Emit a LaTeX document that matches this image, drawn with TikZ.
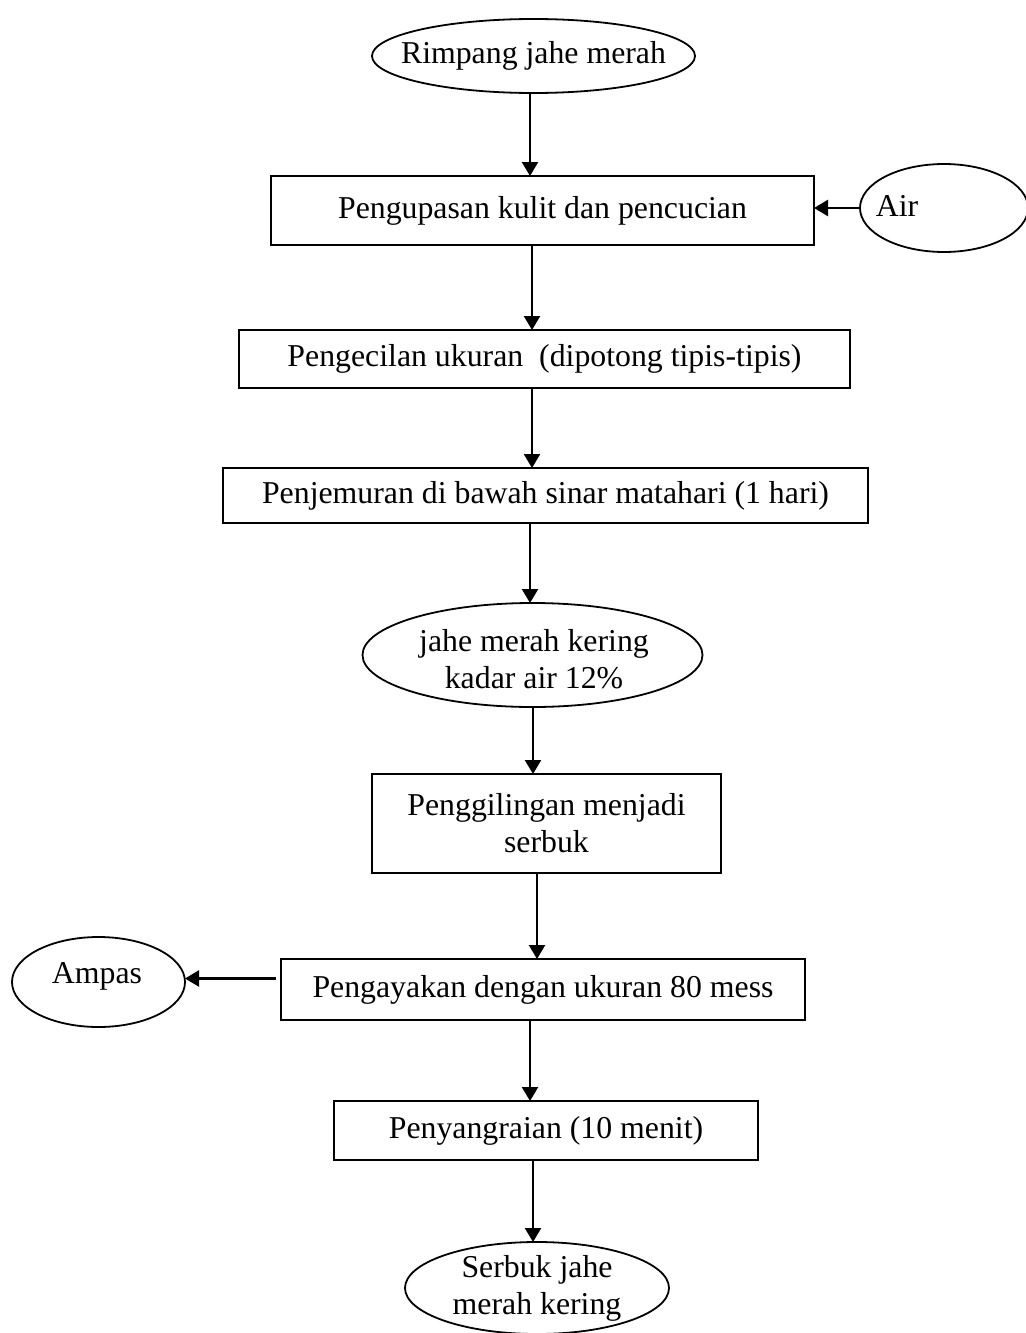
\documentclass[tikz,border=0pt]{standalone}
\usepackage{fontspec}
\setmainfont{Liberation Serif}
\usetikzlibrary{shapes.geometric,arrows.meta}
\begin{document}
\begin{tikzpicture}[x=0.5pt,y=-0.5pt,
  every node/.style={font=\fontsize{15.9pt}{18.5pt}\selectfont, inner sep=0pt, outer sep=0pt},
  box/.style={draw, line width=1.1pt, rectangle, align=center},
  oval/.style={draw, line width=0.9pt, ellipse},
  lbl/.style={align=center},
  arr/.style={line width=1.2pt, -{Triangle[length=7pt,width=8pt]}}]
\useasboundingbox (0,0) rectangle (1026,1333);
\coordinate (xa) at (530,0);
\coordinate (xb) at (532,0);
\coordinate (xc) at (533,0);
\coordinate (xd) at (537,0);
% nodes
\node[oval, minimum width=161.5pt, minimum height=37pt] (start) at (533.5,56) {};
\node[lbl] (startt) at (start) {Rimpang jahe merah};
\node[box, minimum width=271.5pt, minimum height=34.5pt] (r1) at (542.5,210.5) {Pengupasan kulit dan pencucian};
\node[oval, minimum width=84pt, minimum height=44pt] (air) at (944,208) {};
\node[lbl] (airt) at (897,206) {Air};
\node[box, minimum width=305.5pt, minimum height=29pt] (r2) at (544.5,359) {Pengecilan ukuran\ \ (dipotong tipis-tipis)};
\node[box, minimum width=322.5pt, minimum height=27.5pt] (r3) at (545.5,495.5) {Penjemuran di bawah sinar matahari (1 hari)};
\node[oval, minimum width=170pt, minimum height=52pt] (dry) at (532.5,655) {};
\node[lbl] (dryt) at (534,659) {jahe merah kering\\kadar air 12\%};
\node[box, minimum width=174.5pt, minimum height=49.5pt] (grind) at (546.5,823.5) {Penggilingan menjadi\\serbuk};
\node[box, minimum width=262pt, minimum height=30.5pt] (sieve) at (543,989.5) {Pengayakan dengan ukuran 80 mess};
\node[oval, minimum width=86.5pt, minimum height=45pt] (amp) at (98.5,982) {};
\node[lbl] (ampt) at (97,976) {Ampas};
\node[box, minimum width=212pt, minimum height=29.5pt] (roast) at (546,1130.5) {Penyangraian (10 menit)};
\node[oval, minimum width=132pt, minimum height=46pt] (fin) at (537,1288) {};
\node[lbl] (fint) at (537,1288) {Serbuk jahe\\merah kering};
% connectors
\draw[arr] (start.south -| xa) -- (r1.north -| xa);
\draw[arr] (air.west) -- (air.west -| r1.east);
\draw[arr] (r1.south -| xb) -- (r2.north -| xb);
\draw[arr] (r2.south -| xb) -- (r3.north -| xb);
\draw[arr] (r3.south -| xa) -- (dry.north -| xa);
\draw[arr] (dry.south -| xc) -- (grind.north -| xc);
\draw[arr] (grind.south -| xd) -- (sieve.north -| xd);
\coordinate (ps) at ([xshift=-2.5pt,yshift=5.5pt]sieve.west);
\draw[arr] (ps) -- (amp.east |- ps);
\draw[arr] (sieve.south -| xa) -- (roast.north -| xa);
\draw[arr] (roast.south -| xc) -- (fin.north -| xc);
\end{tikzpicture}
\end{document}
